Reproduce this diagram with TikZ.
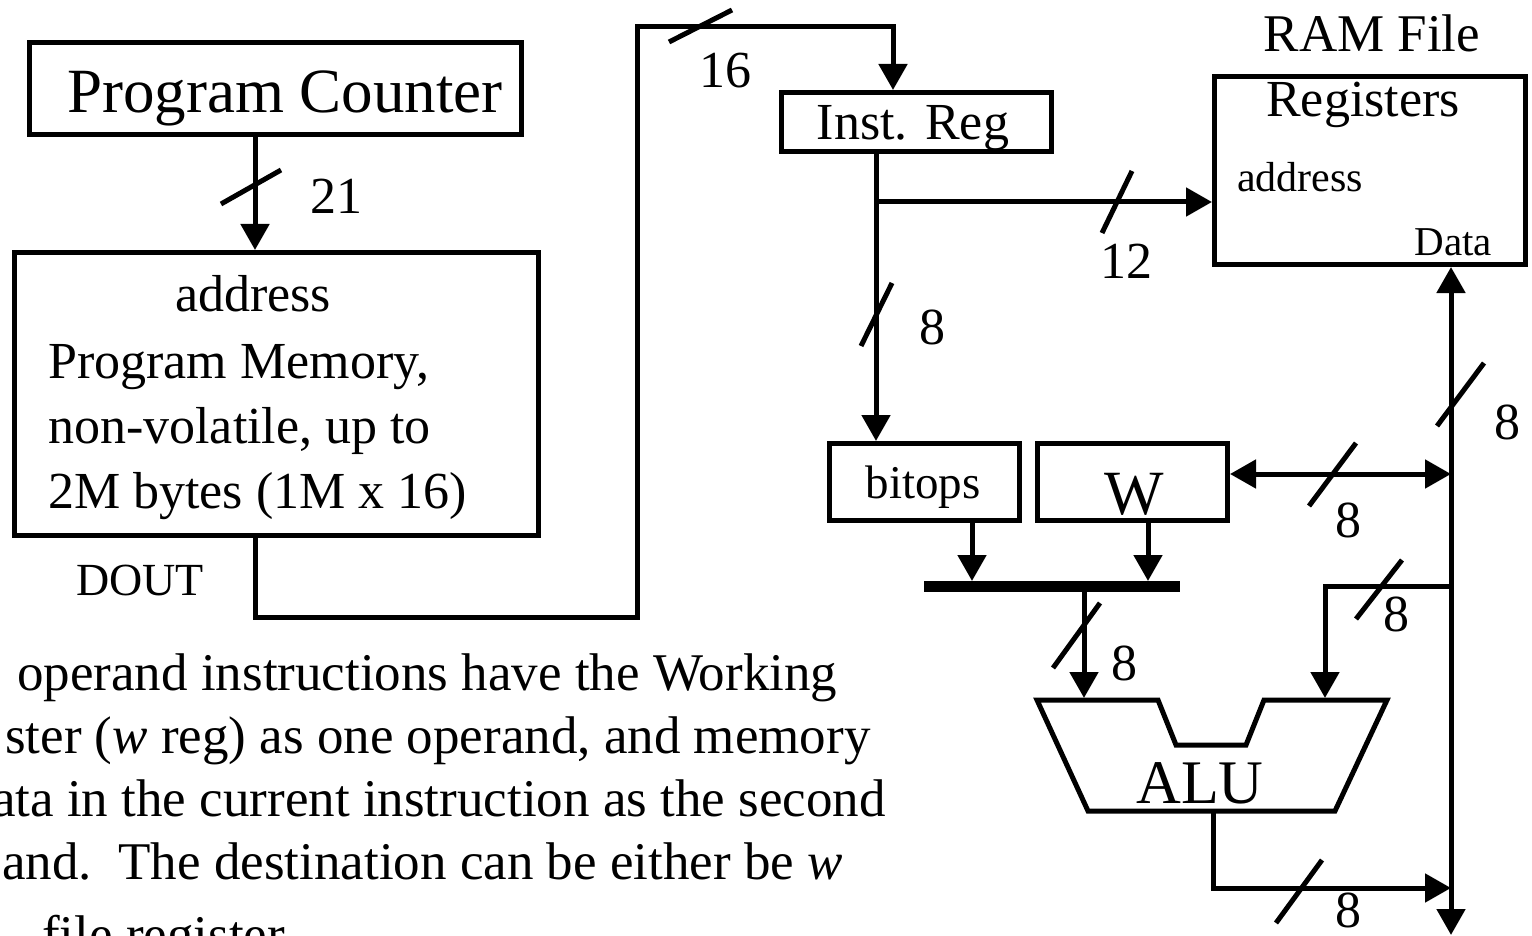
\documentclass[tikz,border=0pt]{standalone}
\usepackage{fontspec}
\setmainfont{Liberation Serif}
\usetikzlibrary{arrows.meta}
\newcommand\setfs[1]{\fontsize{#1pt}{#1pt}\selectfont}
\tikzset{
  wire/.style={line width=5pt},
  arrow/.style={wire, -{Triangle[length=26pt,width=28pt]}},
  dblarrow/.style={wire, {Triangle[length=26pt,width=28pt]}-{Triangle[length=26pt,width=28pt]}},
  box/.style={draw, line width=5pt, inner sep=0pt},
  lbl/.style={inner sep=0pt, font=\setfs{52}},
  note/.style={inner sep=0pt, font=\setfs{53}, anchor=base west},
}
\begin{document}
\begin{tikzpicture}[x=1pt, y=-1pt]
\useasboundingbox (0,0) rectangle (1532,936);

% ---- blocks ----
\node[box, minimum width=492pt, minimum height=92pt] (pc) at (275.5,88.5) {};
\node[box, minimum width=524pt, minimum height=283pt] (mem) at (276.5,394) {};
\node[box, minimum width=270pt, minimum height=59pt] (inst) at (916.5,122) {};
\node[box, minimum width=311pt, minimum height=188pt] (ram) at (1370,170.5) {};
\node[box, minimum width=190pt, minimum height=77pt] (bitops) at (924.5,482) {};
\node[box, minimum width=190pt, minimum height=77pt] (w) at (1132.5,482) {};
\node[fill, inner sep=0pt, outer sep=0pt, minimum width=256pt, minimum height=11pt] (bar) at (1052,586.5) {};

% ALU outline
\draw[wire, line join=miter] (1037,700) -- (1158,700) -- (1176,745) -- (1246,745)
  -- (1264,700) -- (1387,700) -- (1335,811) -- (1088,811) -- cycle;

% ---- block texts ----
\node[inner sep=0pt, font=\setfs{63}, anchor=base] (pctxt) at (285,113) {Program Counter};
\node[lbl, anchor=base] (memaddr) at (253,312) {address};
\node[lbl, anchor=base west] (meml1) at (48,378) {Program Memory,};
\node[lbl, anchor=base west] (meml2) at (48,443) {non-volatile, up to};
\node[lbl, anchor=base west] (meml3) at (48,508) {2M bytes (1M x 16)};
\node[inner sep=0pt, font=\setfs{46}, anchor=base] (dout) at (140,595) {DOUT};
\node[lbl, anchor=base] (insttxt) at (913,140) {Inst. Reg};
\node[inner sep=0pt, font=\setfs{53}, anchor=base] (ramtitle) at (1372,52) {RAM File};
\node[lbl, anchor=base] (ramreg) at (1363,117) {Registers};
\node[inner sep=0pt, font=\setfs{42}, anchor=base west] (ramaddr) at (1237,192) {address};
\node[inner sep=0pt, font=\setfs{41}, anchor=base east] (ramdata) at (1492,256) {Data};
\node[inner sep=0pt, font=\setfs{47}, anchor=base] (bitopstxt) at (923,498) {bitops};
\node[inner sep=0pt, font=\setfs{63}, anchor=base] (wtxt) at (1134,514) {W};
\node[inner sep=0pt, font=\setfs{62}, anchor=base] (alutxt) at (1200,803) {ALU};

% ---- connection points ----
\coordinate (xa) at (255,0);
\coordinate (d1) at (255,617);
\coordinate (d2) at (637,617);
\coordinate (d3) at (637,27);
\coordinate (d4) at (893,27);
\coordinate (ib) at (876,202);
\coordinate (bx) at (972,0);
\coordinate (wx) at (1148,0);
\coordinate (ax) at (1084,0);
\coordinate (aluL) at (1084,698);
\coordinate (aluR) at (1325,698);
\coordinate (aluO) at (1213,811);
\coordinate (busB) at (1451,935);
\coordinate (wj) at (1451,474);
\coordinate (bj) at (1451,586);
\coordinate (bk) at (1325,586);
\coordinate (oj) at (1213,888);
\coordinate (ok) at (1451,888);

% ---- connectors ----
\draw[arrow] (xa |- pc.south) -- (xa |- mem.north);
\draw[arrow, line join=miter] (d1 |- mem.south) -- (d1) -- (d2) -- (d3) -- (d4) -- (d4 |- inst.north);
\draw[arrow] (ib |- inst.south) -- (ib |- bitops.north);
\draw[arrow] (ib) -- (ib -| ram.west);
\draw[arrow] (bx |- bitops.south) -- (bx |- bar.north);
\draw[arrow] (wx |- w.south) -- (wx |- bar.north);
\draw[arrow] (ax |- bar.south) -- (aluL);
\draw[dblarrow] (busB) -- (busB |- ram.south);
\draw[dblarrow] (w.east |- wj) -- (wj);
\draw[arrow, line join=miter] (bj) -- (bk) -- (aluR);
\draw[arrow, line join=miter] (aluO) -- (oj) -- (ok);

% ---- bus width slashes ----
\draw[wire] (221,204) -- (281,170);
\draw[wire] (669,42) -- (732,10);
\draw[wire] (1102,233) -- (1132,171);
\draw[wire] (861,346) -- (892,283);
\draw[wire] (1437,426) -- (1484,363);
\draw[wire] (1309,506) -- (1356,443);
\draw[wire] (1053,668) -- (1100,603);
\draw[wire] (1356,619) -- (1402,560);
\draw[wire] (1276,923) -- (1322,860);

% ---- width labels ----
\node[lbl, anchor=base] (n21) at (336,214) {21};
\node[lbl, anchor=base] (n16) at (725,88) {16};
\node[lbl, anchor=base] (n12) at (1126,279) {12};
\node[lbl, anchor=base] (n8a) at (932,344) {8};
\node[lbl, anchor=base] (n8b) at (1348,537) {8};
\node[lbl, anchor=base] (n8c) at (1507,439) {8};
\node[lbl, anchor=base] (n8d) at (1124,680) {8};
\node[lbl, anchor=base] (n8e) at (1396,631) {8};
\node[lbl, anchor=base] (n8f) at (1348,927) {8};

% ---- explanatory note ----
\node[note] (t1) at (17,690) {operand instructions have the Working};
\node[note] (t2) at (5,753) {ster (\textit{w} reg) as one operand, and memory};
\node[note] (t3) at (-8,816) {ata in the current instruction as the second};
\node[note] (t4) at (2,879) {and.\ \ The destination can be either be \textit{w}};
\node[note] (t5) at (42,952) {file register.};
\end{tikzpicture}
\end{document}
